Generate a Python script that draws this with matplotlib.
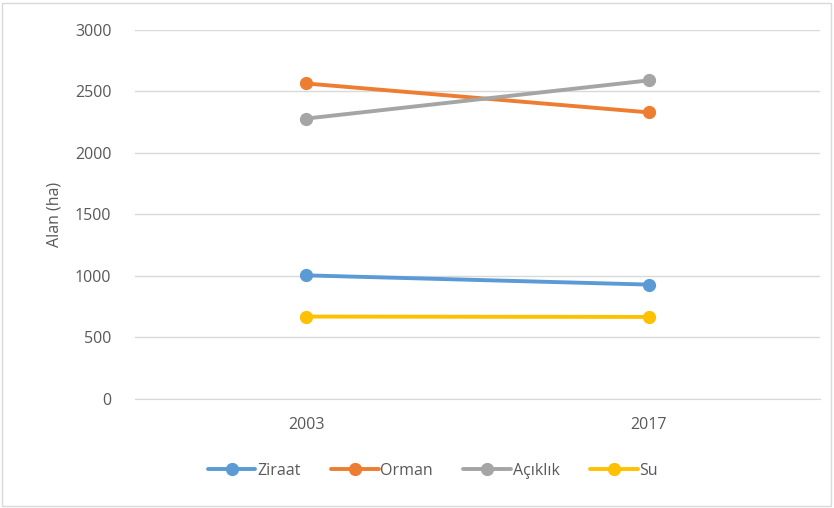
import matplotlib
matplotlib.use("Agg")
import matplotlib.pyplot as plt
from matplotlib.patches import Rectangle

years = ["2003", "2017"]
ziraat = [1005, 930]
orman = [2565, 2330]
aciklik = [2280, 2590]
su = [670, 667]

series_names = ["Ziraat", "Orman", "Açıklık", "Su"]
series_values = [ziraat, orman, aciklik, su]
colors = ["#5B9BD5", "#ED7D31", "#A5A5A5", "#FFC000"]

plt.rcParams['font.family'] = ['Open Sans', 'DejaVu Sans']

fig = plt.figure(figsize=(8.34, 5.08), dpi=100)
ax = fig.add_axes([0.162, 0.2146, 0.821, 0.7264])

x = list(range(len(years)))
for name, vals, c in zip(series_names, series_values, colors):
    ax.plot(x, vals, color=c, lw=2.8, marker='o', ms=8.5, label=name,
            solid_capstyle='round', zorder=3)

ax.set_xlim(-0.5, 1.5)
ax.set_ylim(0, 3000)
ax.set_yticks(range(0, 3001, 500))
ax.set_xticks(x)
ax.set_xticklabels(years)
ax.grid(axis='y', color='#D9D9D9', lw=1)
ax.set_axisbelow(True)
for s in ['top', 'right', 'left']:
    ax.spines[s].set_visible(False)
ax.spines['bottom'].set_color('#D9D9D9')
ax.tick_params(length=0, colors='#595959', labelsize=11.5)
ax.tick_params(axis='y', pad=17)
ax.tick_params(axis='x', pad=13)
ax.set_ylabel("Alan (ha)", color='#595959', fontsize=11.5, labelpad=9)

leg = fig.legend(loc='center', bbox_to_anchor=(0.519, 0.073), ncol=4, frameon=False,
                 fontsize=11.5, handlelength=3.0, columnspacing=1.9, handletextpad=0.1)
for t in leg.get_texts():
    t.set_color('#595959')

fig.patches.append(Rectangle((0.002, 0.004), 0.995, 0.99, transform=fig.transFigure,
                             fill=False, edgecolor='#D9D9D9', lw=1))

fig.savefig("out.png", dpi=100)
